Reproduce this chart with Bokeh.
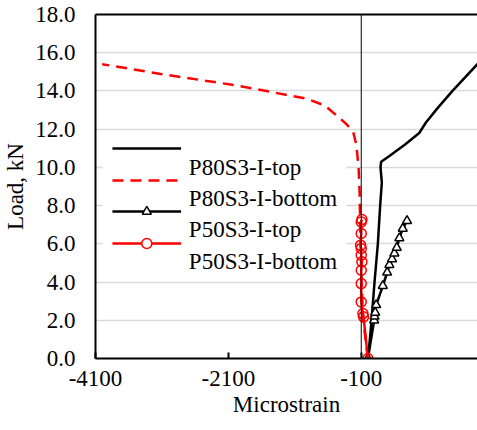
from bokeh.plotting import figure
from bokeh.models import (Range1d, FixedTicker, NumeralTickFormatter, LinearAxis,
                          Span, BoxAnnotation, Label)
from bokeh.embed import file_html
from bokeh.resources import INLINE

# ---------------- data (microstrain, load kN) ----------------
p80_top_x = [0, 30, 60, 100, 150, 185, 210, 190, 200, 324, 560, 773, 874, 1049, 1274, 1648, 1800]
p80_top_y = [0, 1.0, 2.2, 4.0, 6.0, 8.0, 9.2, 10.0, 10.3, 10.6, 11.2, 11.8, 12.35, 13.1, 14.0, 15.4, 15.9]

p80_bot_x = [0, -70, -95, -110, -125, -140, -175, -224, -350, -500, -650, -924, -2000, -3122, -4000]
p80_bot_y = [0, 2.0, 4.0, 6.0, 8.7, 10.0, 11.2, 11.9, 12.35, 12.8, 13.24, 13.6, 14.3, 14.89, 15.4]

p50_top_x = [0, 95, 100, 110, 125, 225, 290, 324, 364, 399, 435, 474, 525, 589]
p50_top_y = [0, 2.0, 2.2, 2.4, 2.8, 3.8, 4.5, 4.9, 5.2, 5.5, 5.8, 6.3, 6.8, 7.2]

p50_bot_x = [0, -65, -75, -100, -100, -100, -90, -100, -100, -110, -100, -100, -90]
p50_bot_y = [0, 2.18, 2.35, 2.96, 3.92, 4.62, 5.06, 5.4, 5.76, 5.93, 6.54, 7.14, 7.27]

series_names = ["P80S3-I-top", "P80S3-I-bottom", "P50S3-I-top", "P50S3-I-bottom"]
x_ticks = [-4100, -2100, -100, 1900]
x_tick_labels = ["-4100", "-2100", "-100", "1900"]
y_ticks = [0, 2, 4, 6, 8, 10, 12, 14, 16, 18]

FONT = "Liberation Serif"
FS = "23px"

p = figure(width=477, height=430, output_backend="svg", toolbar_location=None,
           x_range=Range1d(-4100, 1650), y_range=Range1d(0, 18),
           min_border_left=93, min_border_right=0, min_border_top=14, min_border_bottom=72,
           background_fill_color="white", border_fill_color="white")
p.outline_line_color = None

# grid
p.xgrid.grid_line_color = None
p.ygrid.ticker = FixedTicker(ticks=y_ticks)
p.ygrid.grid_line_color = "#d9d9d9"
p.ygrid.grid_line_width = 1.5

# x axis
xa = p.xaxis[0]
xa.ticker = FixedTicker(ticks=x_ticks)
xa.major_label_overrides = {t: s for t, s in zip(x_ticks, x_tick_labels)}
xa.axis_label = "Microstrain"
xa.axis_line_width = 2
xa.axis_line_color = "black"
xa.major_tick_in = 6
xa.major_tick_out = 0
xa.major_tick_line_width = 2
xa.minor_tick_line_color = None
xa.major_label_standoff = 12
xa.axis_label_standoff = 3
# y axis
ya = p.yaxis[0]
ya.ticker = FixedTicker(ticks=y_ticks)
ya.formatter = NumeralTickFormatter(format="0.0")
ya.axis_label = "Load, kN"
ya.axis_line_width = 2
ya.axis_line_color = "black"
ya.major_tick_in = 0
ya.major_tick_out = 0
ya.minor_tick_line_color = None
ya.major_label_standoff = 20
ya.axis_label_standoff = 4
for ax in (xa, ya):
    ax.major_label_text_font = FONT
    ax.major_label_text_font_size = FS
    ax.major_label_text_color = "black"
    ax.axis_label_text_font = FONT
    ax.axis_label_text_font_size = FS
    ax.axis_label_text_font_style = "normal"
    ax.axis_label_text_color = "black"

# top border
top = LinearAxis(ticker=FixedTicker(ticks=[]), axis_line_width=2, axis_line_color="black",
                 major_tick_in=0, major_tick_out=0, minor_tick_line_color=None,
                 major_label_text_font_size="0px")
p.add_layout(top, "above")

# vertical line at -100
p.add_layout(Span(location=-100, dimension="height", line_color="black", line_width=1))

# series
p.line(p80_top_x, p80_top_y, line_color="black", line_width=2.5)
p.line(p80_bot_x, p80_bot_y, line_color="red", line_width=2.5, line_dash="11 7")
p.line(p50_top_x, p50_top_y, line_color="black", line_width=2.5)
p.scatter(p50_top_x, p50_top_y, marker="triangle", size=9, line_color="black",
          line_width=1.5, fill_color="white")
p.line(p50_bot_x, p50_bot_y, line_color="red", line_width=2.5)
p.scatter(p50_bot_x, p50_bot_y, marker="circle", size=10, line_color="red",
          line_width=1.5, fill_color=None)

# ---------------- legend (layout, Excel-like) ----------------
leg_left, leg_right, leg_top, leg_bottom = -3993, -325, 11.56, 4.34
p.add_layout(BoxAnnotation(left=leg_left, right=leg_right, top=leg_top, bottom=leg_bottom,
                           fill_color="white", fill_alpha=1.0, line_color=None, level="annotation"))
sample_x0, sample_x1, sample_mid = -3845, -2812, -3328
text_x = -2695
sample_y = [10.99, 9.32, 7.69, 6.02]
text_y = [10.01, 8.37, 6.75, 5.09]
styles = [
    dict(color="black", dash="solid", marker=None),
    dict(color="red", dash="11 7", marker=None),
    dict(color="black", dash="solid", marker="triangle"),
    dict(color="red", dash="solid", marker="circle"),
]
for name, st, sy, ty in zip(series_names, styles, sample_y, text_y):
    r = p.line([sample_x0, sample_x1], [sy, sy], line_color=st["color"], line_width=2.5,
               line_dash=st["dash"])
    r.level = "overlay"
    if st["marker"] == "triangle":
        m = p.scatter([sample_mid], [sy], marker="triangle", size=9, line_color="black",
                      line_width=1.5, fill_color="white")
        m.level = "overlay"
    elif st["marker"] == "circle":
        m = p.scatter([sample_mid], [sy], marker="circle", size=10, line_color="red",
                      line_width=1.5, fill_color="white")
        m.level = "overlay"
    p.add_layout(Label(x=text_x, y=ty, text=name, text_font=FONT, text_font_size=FS,
                       text_baseline="middle", text_align="left", text_color="black"))

open("out.html", "w").write(file_html(p, INLINE))
